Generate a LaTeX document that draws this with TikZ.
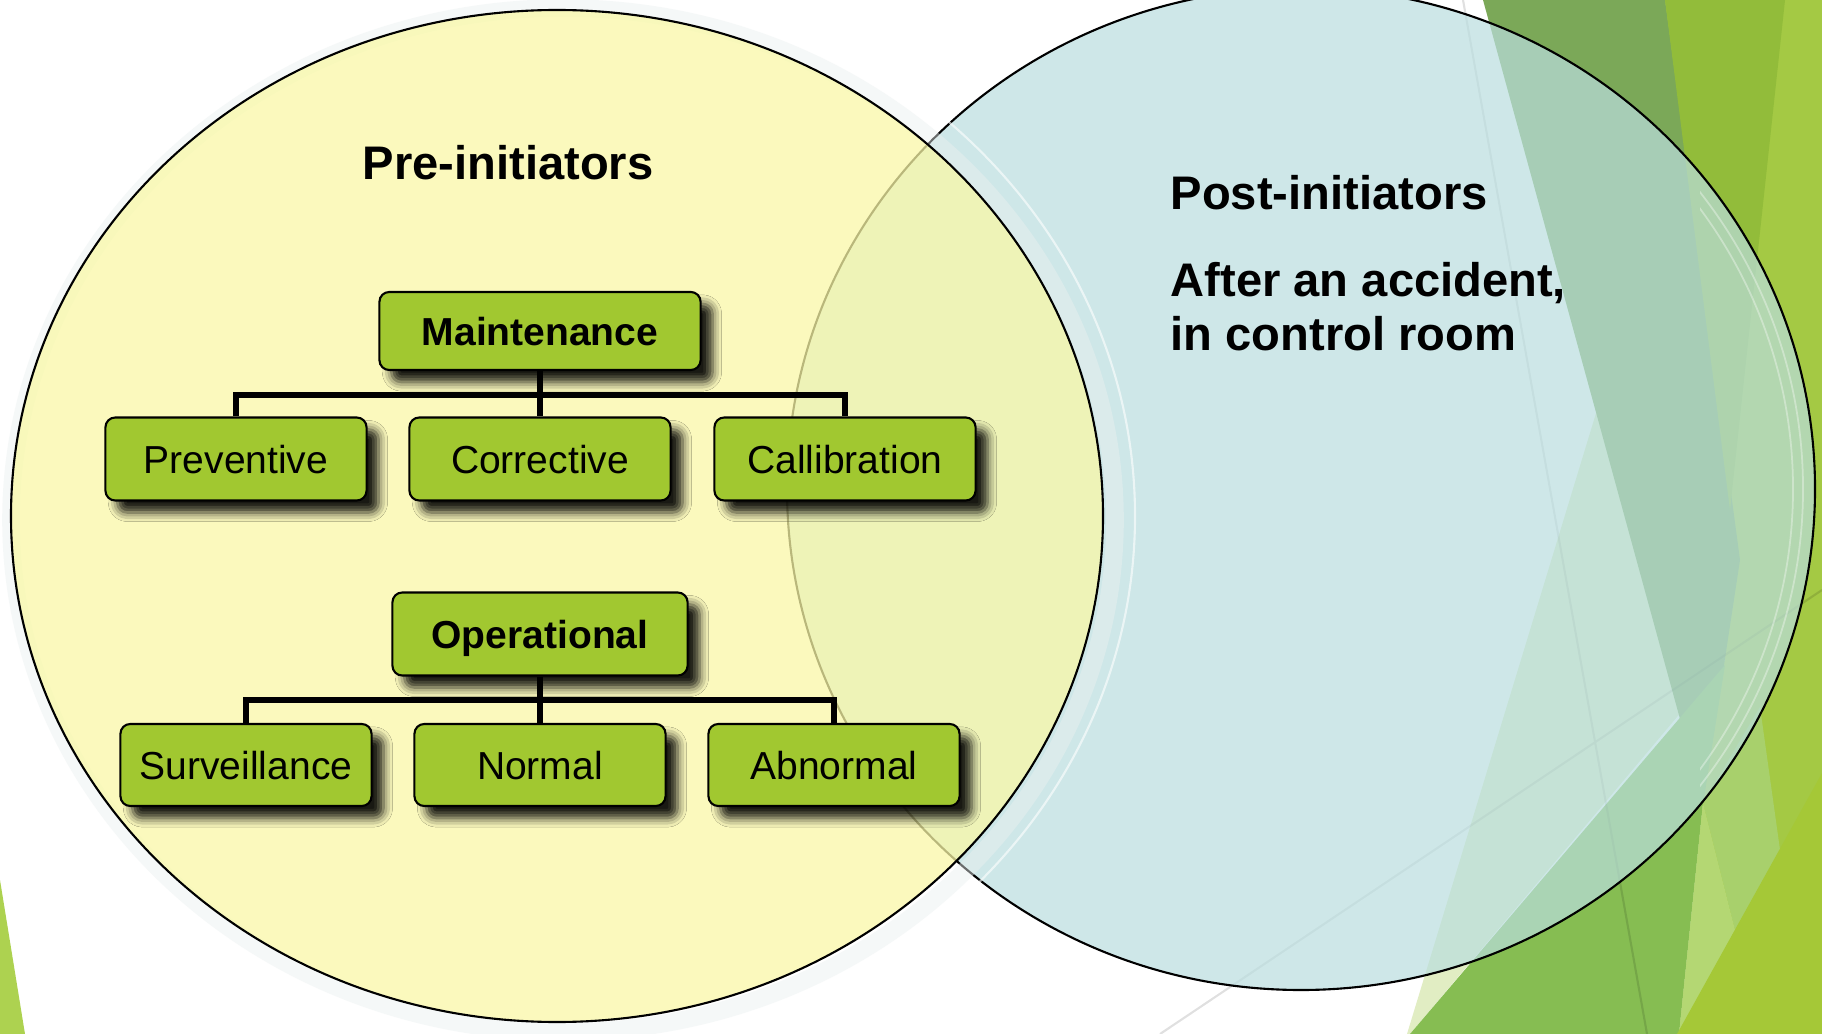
\documentclass[tikz,border=0pt]{standalone}
\usepackage{fontspec}
\setmainfont{Liberation Sans}
\usetikzlibrary{shadows.blur}
\definecolor{venny}{RGB}{250,248,167}
\definecolor{vennb}{RGB}{186,222,223}
\definecolor{boxg}{RGB}{161,200,48}
\definecolor{gdark}{RGB}{123,168,88}
\definecolor{gmid}{RGB}{146,188,58}
\definecolor{glight}{RGB}{164,201,68}
\definecolor{gsoft}{RGB}{134,189,82}
\definecolor{gpale}{RGB}{225,237,195}
\definecolor{gstrip}{RGB}{180,215,115}
\definecolor{gmix}{RGB}{168,208,108}
\definecolor{gyel}{RGB}{165,200,55}
\definecolor{gleft}{RGB}{173,210,80}
\definecolor{glow}{RGB}{235,240,240}
\tikzset{
	leaf/.style={draw=black,line width=0.6pt,fill=boxg,rounded corners=2.8pt,
		minimum width=2.61cm,minimum height=0.83cm,inner sep=0pt,
		text height=9pt,text depth=1pt,
		font=\fontsize{11.1}{13}\selectfont,
		blur shadow={shadow xshift=3.4pt,shadow yshift=-3.4pt,
			shadow blur radius=2.6pt,shadow opacity=90}},
	root/.style={leaf,font=\fontsize{11.1}{13}\selectfont\bfseries},
	bar/.style={line width=1.7pt},
	title/.style={inner sep=0pt,font=\fontsize{13.4}{16}\selectfont\bfseries}
}
\begin{document}
\begin{tikzpicture}[x=0.01cm,y=-0.01cm]
	\useasboundingbox (0,0) rectangle (1822,1034);
	\clip (0,0) rectangle (1822,1034);
	\fill[white] (0,0) rectangle (1822,1034);
	% facets
	\fill[glight] (1665,0)--(1822,0)--(1822,1034)--(1679,1034)--(1703,803)--cycle;
	\fill[gmix] (1703,803)--(1735,930)--(1780,850)--(1760,707)--cycle;
	\fill[gpale] (1407,1034)--(1600,400)--(1725,660)--(1410,1034)--cycle;
	\fill[gdark] (1483,0)--(1665,0)--(1740,560)--(1703,803)--cycle;
	\fill[gsoft] (1410,1034)--(1725,665)--(1703,803)--(1679,1034)--cycle;
	\fill[gmid] (1665,0)--(1785,0)--(1730,510)--cycle;
	\fill[gstrip] (1703,803)--(1679,1034)--(1735,930)--cycle;
	\fill[gyel] (1677,1034)--(1822,773)--(1822,1034)--cycle;
	\fill[gleft] (0,880)--(25,1034)--(0,1034)--cycle;
	\draw[black,opacity=.12,line width=0.6pt]
	(1463,0)--(1647,1034) (1160,1034)--(1822,590);
	% post
	\draw[line width=0.6pt,fill=vennb,fill opacity=.7]
	(1301,489) ellipse [x radius=514,y radius=501];
	\begin{scope}
		\clip (1700,0) rectangle (1822,1034);
		\draw[white,opacity=.35,line width=0.5pt]
		(1301,489) ellipse [x radius=502,y radius=489]
		(1301,489) ellipse [x radius=492,y radius=479];
	\end{scope}
	% pre
	\draw[glow,opacity=.45,line width=5pt]
	(563,520) ellipse [x radius=552,y radius=512];
	\draw[white,opacity=.6,line width=0.6pt]
	(557,516) ellipse [x radius=578,y radius=536];
	\draw[line width=0.6pt,fill=venny,fill opacity=.74]
	(557,516) ellipse [x radius=546,y radius=506];
	\node[title,anchor=base] (pre) at (508,180) {Pre-initiators};
	\node[title,anchor=base west] (post) at (1170,210) {Post-initiators};
	\node[title,anchor=base west] (after) at (1170,297) {After an accident,};
	\node[title,anchor=base west] (room) at (1170,351) {in control room};
	% maintenance
	\node[root,minimum width=3.21cm,minimum height=0.78cm] (maint) at (540,331) {Maintenance};
	\foreach \x/\texn in {236/Preventive,540/Corrective,845/Callibration}
	\path (\x,459) node[leaf](m\x){\texn};
	\coordinate (mbar) at (540,395);
	\draw[bar] (maint.south)--(mbar) (mbar)--(m540.north);
	\draw[bar] (m236.north) |- (mbar) -| (m845.north);
	% operational
	\node[root,minimum width=2.95cm] (oper) at (540,634) {Operational};
	\foreach \x/\texn in {246/Surveillance,540/Normal,834/Abnormal}
	\path (\x,765) node[leaf,minimum width=2.51cm,minimum height=0.82cm](o\x){\texn};
	\coordinate (obar) at (540,700);
	\draw[bar] (oper.south)--(obar) (obar)--(o540.north);
	\draw[bar] (o246.north) |- (obar) -| (o834.north);
\end{tikzpicture}
\end{document}
